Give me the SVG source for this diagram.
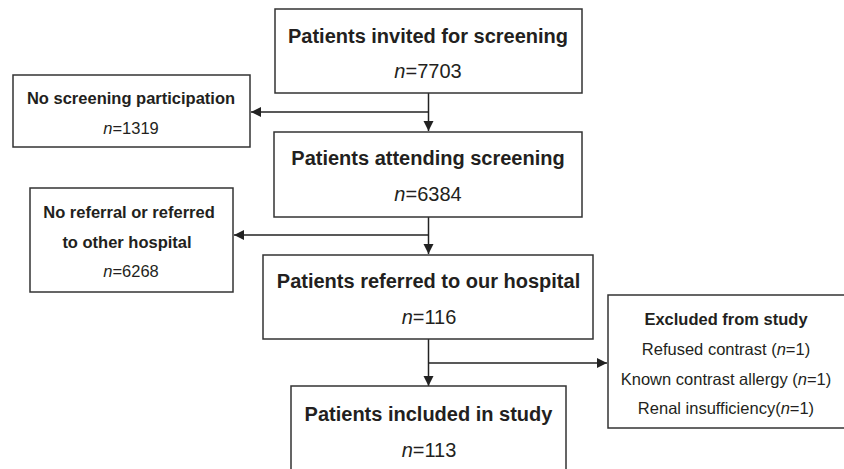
<svg xmlns="http://www.w3.org/2000/svg" width="844" height="469" viewBox="0 0 844 469">
<style>
.box{fill:#fff;stroke:#333;stroke-width:1.5}
.t{font-family:"Liberation Sans",Arial,sans-serif;fill:#231f20;text-anchor:middle}
.b20{font-size:20px;font-weight:bold}
.r20{font-size:20px}
.b16{font-size:16.5px;font-weight:bold}
.r16{font-size:16.5px}
.conn{fill:none;stroke:#222;stroke-width:1.5}
</style>
<defs>
<marker id="arr" markerWidth="12" markerHeight="12" refX="10" refY="5" orient="auto" markerUnits="userSpaceOnUse">
<path d="M0,0 L10,5 L0,10 Z" fill="#222"/>
</marker>
</defs>
<rect width="844" height="469" fill="#fff"/>
<g id="connectors">
<line class="conn" x1="428.5" y1="93" x2="428.5" y2="131" marker-end="url(#arr)"/>
<line class="conn" x1="428.5" y1="112" x2="251" y2="112" marker-end="url(#arr)"/>
<line class="conn" x1="428.5" y1="217" x2="428.5" y2="254" marker-end="url(#arr)"/>
<line class="conn" x1="428.5" y1="235" x2="234" y2="235" marker-end="url(#arr)"/>
<line class="conn" x1="428.5" y1="339" x2="428.5" y2="386" marker-end="url(#arr)"/>
<line class="conn" x1="428.5" y1="363" x2="607" y2="363" marker-end="url(#arr)"/>
</g>
<g id="invited">
<rect class="box" x="275" y="9" width="307" height="84"/>
<text class="t b20" x="428" y="43">Patients invited for screening</text>
<text class="t r20" x="428" y="78"><tspan font-style="italic">n</tspan>=7703</text>
</g>
<g id="no-participation">
<rect class="box" x="13" y="75" width="237" height="72"/>
<text class="t b16" x="131" y="104">No screening participation</text>
<text class="t r16" x="131" y="134"><tspan font-style="italic">n</tspan>=1319</text>
</g>
<g id="attending">
<rect class="box" x="274" y="132" width="308" height="85"/>
<text class="t b20" x="428" y="165">Patients attending screening</text>
<text class="t r20" x="428" y="201"><tspan font-style="italic">n</tspan>=6384</text>
</g>
<g id="no-referral">
<rect class="box" x="30" y="188" width="203" height="104"/>
<text class="t b16" x="129" y="218">No referral or referred</text>
<text class="t b16" x="127" y="248">to other hospital</text>
<text class="t r16" x="131" y="277"><tspan font-style="italic">n</tspan>=6268</text>
</g>
<g id="referred">
<rect class="box" x="263" y="255" width="330" height="84"/>
<text class="t b20" x="428.5" y="288">Patients referred to our hospital</text>
<text class="t r20" x="429" y="324"><tspan font-style="italic">n</tspan>=116</text>
</g>
<g id="excluded">
<rect class="box" x="608" y="295" width="250" height="133"/>
<text class="t b16" x="726" y="325">Excluded from study</text>
<text class="t r16" x="726" y="355">Refused contrast (<tspan font-style="italic">n</tspan>=1)</text>
<text class="t r16" x="726" y="385">Known contrast allergy (<tspan font-style="italic">n</tspan>=1)</text>
<text class="t r16" x="726" y="414">Renal insufficiency(<tspan font-style="italic">n</tspan>=1)</text>
</g>
<g id="included">
<rect class="box" x="291" y="386" width="275" height="100"/>
<text class="t b20" x="428.5" y="421">Patients included in study</text>
<text class="t r20" x="429" y="457"><tspan font-style="italic">n</tspan>=113</text>
</g>
</svg>
